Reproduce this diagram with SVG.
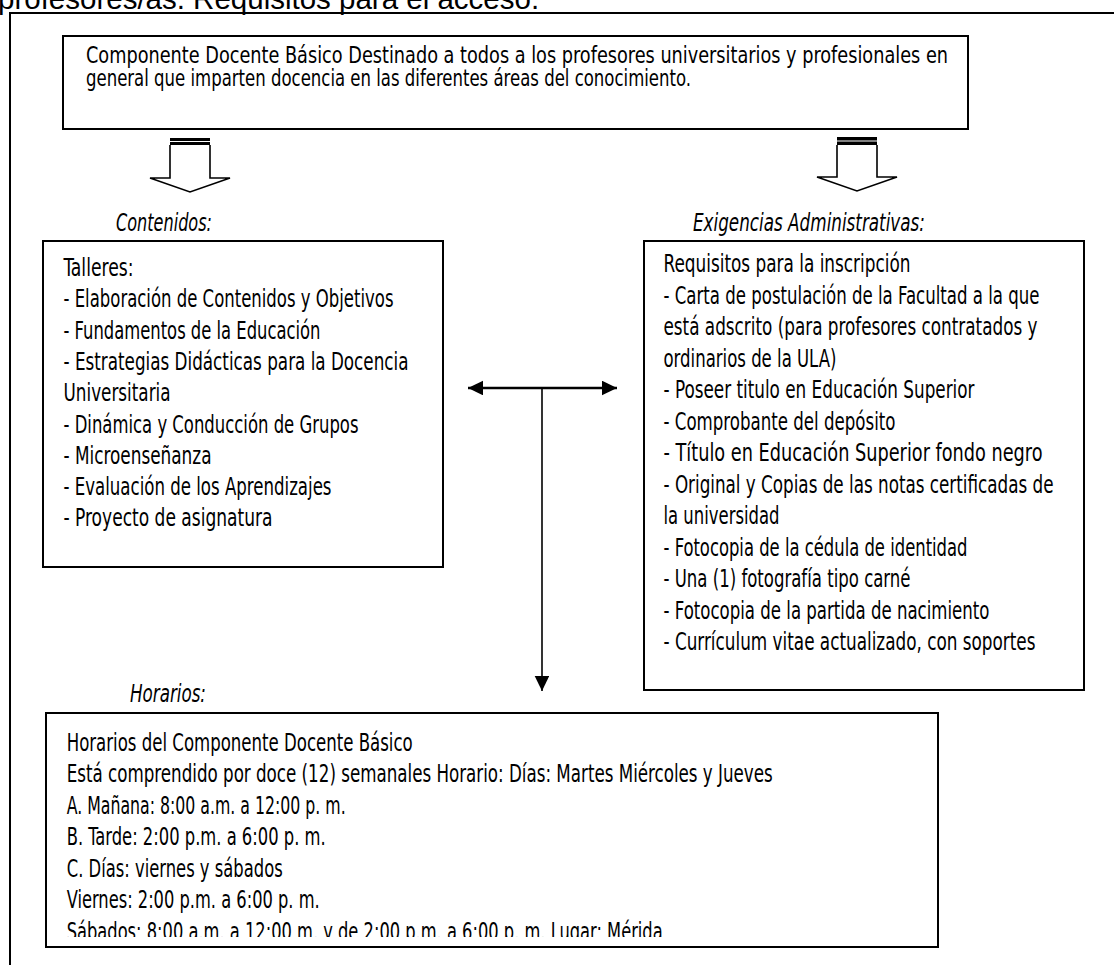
<svg xmlns="http://www.w3.org/2000/svg" width="1114" height="965" viewBox="0 0 1114 965">
<style>
.t{font-family:"DejaVu Sans Condensed","Liberation Sans Narrow","Liberation Sans",sans-serif;font-size:25px;fill:#000}
.s{font-size:23px}
.i{font-style:italic;font-size:24px}
.box{fill:#fff;stroke:#000;stroke-width:2}
.frame{fill:none;stroke:#000;stroke-width:2}
.hollow{fill:#fff;stroke:#000;stroke-width:1.6;stroke-linejoin:miter}
.conn{fill:none;stroke:#000}
</style>
<defs>
<marker id="ah" markerUnits="userSpaceOnUse" markerWidth="16" markerHeight="15" refX="15" refY="7.3" orient="auto-start-reverse">
<path d="M0,0 L15,7.3 L0,14.6 z" fill="#000"/>
</marker>
<clipPath id="clipH"><rect x="46" y="714" width="890" height="223"/></clipPath>
</defs>
<rect width="1114" height="965" fill="#fff"/>
<g id="header">
<text x="-2" y="9" style="font-family:'Liberation Sans',Arial,sans-serif;font-size:29.5px">profesores/as. Requisitos para el acceso.</text>
<path class="frame" d="M10,965 L10,13 L1114,13"/>
</g>
<g id="node-top">
<rect class="box" x="63" y="36" width="905" height="93"/>
<text class="t s" x="86" y="63" textLength="862" lengthAdjust="spacingAndGlyphs">Componente Docente Básico Destinado a todos a los profesores universitarios y profesionales en</text>
<text class="t s" x="86" y="86" textLength="605" lengthAdjust="spacingAndGlyphs">general que imparten docencia en las diferentes áreas del conocimiento.</text>
</g>
<g id="connectors">
<g id="block-arrow-left">
<path class="hollow" d="M170,145 L170,178 L150,178 L190,192 L230,178 L210,178 L210,145"/>
<rect x="170" y="138" width="40" height="7" fill="#000"/>
<line x1="170" y1="141.5" x2="210" y2="141.5" stroke="#fff" stroke-width="1"/>
</g>
<g id="block-arrow-right">
<path class="hollow" d="M837,145 L837,177 L817,177 L857,191 L897,177 L877,177 L877,145"/>
<rect x="837" y="137" width="40" height="8" fill="#000"/>
<line x1="837" y1="141" x2="877" y2="141" stroke="#fff" stroke-width="1"/>
</g>
<line class="conn" x1="468" y1="388" x2="617" y2="388" stroke-width="2.5" marker-start="url(#ah)" marker-end="url(#ah)"/>
<line class="conn" x1="542" y1="388" x2="542" y2="691" stroke-width="1.6" marker-end="url(#ah)"/>
</g>
<g id="node-contenidos">
<text class="t i" x="116" y="231" textLength="96" lengthAdjust="spacingAndGlyphs">Contenidos:</text>
<rect class="box" x="43" y="241" width="400" height="326"/>
<text class="t" x="63.5" y="276" textLength="70" lengthAdjust="spacingAndGlyphs">Talleres:</text>
<text class="t" x="63.5" y="307.3" textLength="330" lengthAdjust="spacingAndGlyphs">- Elaboración de Contenidos y Objetivos</text>
<text class="t" x="63.5" y="338.6" textLength="257" lengthAdjust="spacingAndGlyphs">- Fundamentos de la Educación</text>
<text class="t" x="63.5" y="369.9" textLength="345" lengthAdjust="spacingAndGlyphs">- Estrategias Didácticas para la Docencia</text>
<text class="t" x="63.5" y="401.2" textLength="107" lengthAdjust="spacingAndGlyphs">Universitaria</text>
<text class="t" x="63.5" y="432.5" textLength="295" lengthAdjust="spacingAndGlyphs">- Dinámica y Conducción de Grupos</text>
<text class="t" x="63.5" y="463.8" textLength="148" lengthAdjust="spacingAndGlyphs">- Microenseñanza</text>
<text class="t" x="63.5" y="495.1" textLength="268" lengthAdjust="spacingAndGlyphs">- Evaluación de los Aprendizajes</text>
<text class="t" x="63.5" y="526.4" textLength="209" lengthAdjust="spacingAndGlyphs">- Proyecto de asignatura</text>
</g>
<g id="node-exigencias">
<text class="t i" x="693" y="231" textLength="232" lengthAdjust="spacingAndGlyphs">Exigencias Administrativas:</text>
<rect class="box" x="644" y="241" width="440" height="449"/>
<text class="t" x="663.5" y="272" textLength="247" lengthAdjust="spacingAndGlyphs">Requisitos para la inscripción</text>
<text class="t" x="663.5" y="303.5" textLength="376" lengthAdjust="spacingAndGlyphs">- Carta de postulación de la Facultad a la que</text>
<text class="t" x="663.5" y="335" textLength="374" lengthAdjust="spacingAndGlyphs">está adscrito (para profesores contratados y</text>
<text class="t" x="663.5" y="366.5" textLength="173" lengthAdjust="spacingAndGlyphs">ordinarios de la ULA)</text>
<text class="t" x="663.5" y="398" textLength="311" lengthAdjust="spacingAndGlyphs">- Poseer titulo en Educación Superior</text>
<text class="t" x="663.5" y="429.5" textLength="232" lengthAdjust="spacingAndGlyphs">- Comprobante del depósito</text>
<text class="t" x="663.5" y="461" textLength="379" lengthAdjust="spacingAndGlyphs">- Título en Educación Superior fondo negro</text>
<text class="t" x="663.5" y="492.5" textLength="390" lengthAdjust="spacingAndGlyphs">- Original y Copias de las notas certificadas de</text>
<text class="t" x="663.5" y="524" textLength="116" lengthAdjust="spacingAndGlyphs">la universidad</text>
<text class="t" x="663.5" y="555.5" textLength="304" lengthAdjust="spacingAndGlyphs">- Fotocopia de la cédula de identidad</text>
<text class="t" x="663.5" y="587" textLength="247" lengthAdjust="spacingAndGlyphs">- Una (1) fotografía tipo carné</text>
<text class="t" x="663.5" y="618.5" textLength="326" lengthAdjust="spacingAndGlyphs">- Fotocopia de la partida de nacimiento</text>
<text class="t" x="663.5" y="650" textLength="372" lengthAdjust="spacingAndGlyphs">- Currículum vitae actualizado, con soportes</text>
</g>
<g id="node-horarios">
<text class="t i" x="130" y="702" textLength="76" lengthAdjust="spacingAndGlyphs">Horarios:</text>
<rect class="box" x="46" y="713" width="892" height="234"/>
<g clip-path="url(#clipH)">
<text class="t" x="66.7" y="750.5" textLength="346" lengthAdjust="spacingAndGlyphs">Horarios del Componente Docente Básico</text>
<text class="t" x="66.7" y="782" textLength="706" lengthAdjust="spacingAndGlyphs">Está comprendido por doce (12) semanales Horario: Días: Martes Miércoles y Jueves</text>
<text class="t" x="66.7" y="813.5" textLength="279" lengthAdjust="spacingAndGlyphs">A. Mañana: 8:00 a.m. a 12:00 p. m.</text>
<text class="t" x="66.7" y="845" textLength="259" lengthAdjust="spacingAndGlyphs">B. Tarde: 2:00 p.m. a 6:00 p. m.</text>
<text class="t" x="66.7" y="876.5" textLength="216" lengthAdjust="spacingAndGlyphs">C. Días: viernes y sábados</text>
<text class="t" x="66.7" y="908" textLength="253" lengthAdjust="spacingAndGlyphs">Viernes: 2:00 p.m. a 6:00 p. m.</text>
<text class="t" x="66.7" y="939.5" textLength="596" lengthAdjust="spacingAndGlyphs">Sábados: 8:00 a.m. a 12:00 m. y de 2:00 p.m. a 6:00 p. m. Lugar: Mérida</text>
</g>
</g>
</svg>
